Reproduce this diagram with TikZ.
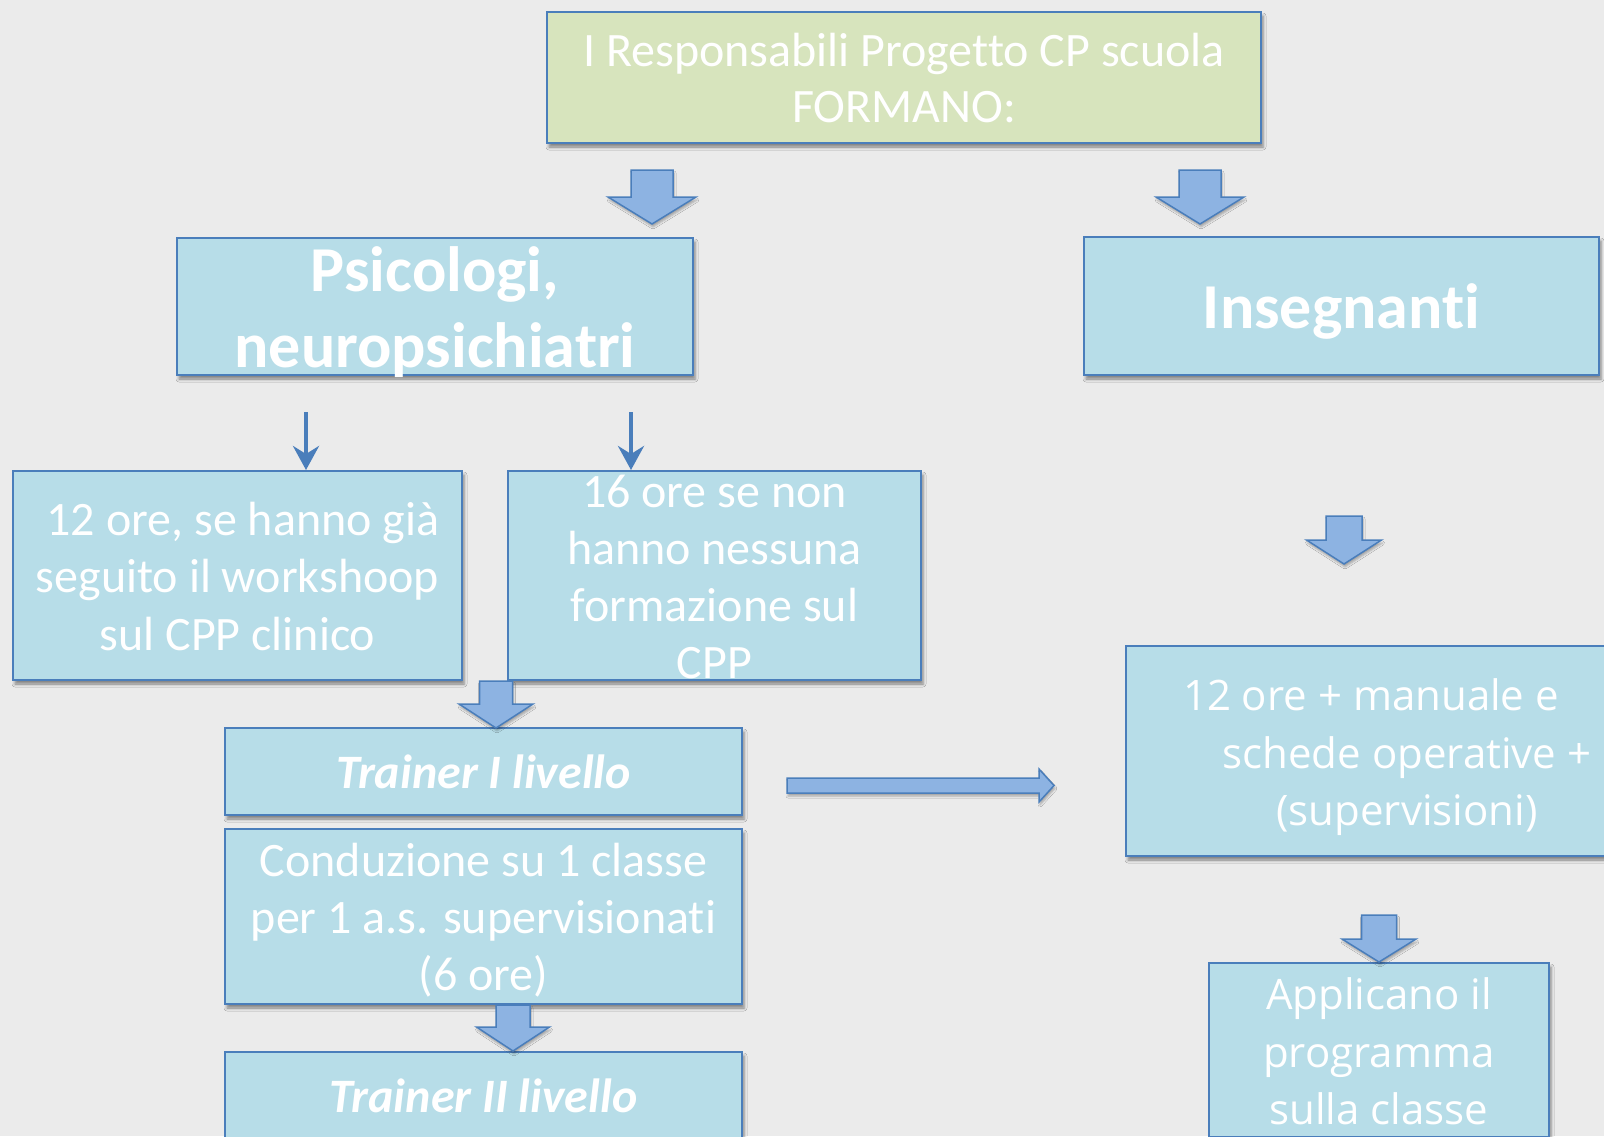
\documentclass[tikz,border=0pt]{standalone}
\usepackage{fontspec}
\setmainfont{Carlito}[Ligatures={NoCommon,NoRare},Contextuals=NoAlternate]
\newfontfamily\osans{Open Sans}[Ligatures={NoCommon,NoRare}]
\usetikzlibrary{shadows.blur,arrows.meta,calc}
\definecolor{bgc}{HTML}{EBEBEB}
\definecolor{boxc}{HTML}{B7DDE8}
\definecolor{greenc}{HTML}{D7E4BD}
\definecolor{edgec}{HTML}{4A7EBB}
\definecolor{arrc}{HTML}{8DB3E2}
\newcommand\ls{\rule[-0.2\baselineskip]{0pt}{\baselineskip}}
\newcommand\fsmain{\fontsize{48}{57.5}\selectfont}
\newcommand\fsbig{\fontsize{64}{76}\selectfont\bfseries}
\newcommand\fsopen{\osans\fontsize{42}{57.5}\selectfont}
% #1 x, #2 top y, #3 head base y, #4 tip y, #5 shaft half width, #6 head half width
\newcommand\dnarrow[6]{%
  \draw[blockarrow] (#1-#5,#2) -- (#1+#5,#2) -- (#1+#5,#3) -- (#1+#6,#3)
    -- (#1,#4) -- (#1-#6,#3) -- (#1-#5,#3) -- cycle;}
\tikzset{
  boxnode/.style={draw=edgec, line width=2pt, fill=boxc, rectangle, inner sep=0pt,
    blur shadow={shadow xshift=2pt, shadow yshift=-4pt, shadow blur radius=3pt, shadow opacity=45}},
  greenbox/.style={boxnode, fill=greenc},
  txt/.style={text=white, align=center, inner sep=0pt},
  blockarrow/.style={draw=edgec, line width=1.5pt, fill=arrc, line join=miter,
    blur shadow={shadow xshift=1pt, shadow yshift=-3pt, shadow blur radius=2pt, shadow opacity=30}},
  thinarrow/.style={draw=edgec, line width=4pt, -{Stealth[length=24pt,width=26pt,inset=8pt]}},
}
\begin{document}
\begin{tikzpicture}[x=1pt,y=-1pt]
\useasboundingbox (0,0) rectangle (1604,1136);
\fill[bgc] (0,0) rectangle (1604,1136);
\begin{scope}
\clip (0,0) rectangle (1604,1136);
% boxes
\node[greenbox, minimum width=714pt, minimum height=131pt] (top) at (904,77.5) {};
\node[boxnode, minimum width=516pt, minimum height=137pt] (psi) at (435,306.5) {};
\node[boxnode, minimum width=515pt, minimum height=138pt] (ins) at (1341.5,306) {};
\node[boxnode, minimum width=449pt, minimum height=209pt] (b12) at (237.5,575.5) {};
\node[boxnode, minimum width=413pt, minimum height=209pt] (b16) at (714.5,575.5) {};
\node[boxnode, minimum width=517pt, minimum height=87pt] (t1) at (483.5,771.5) {};
\node[boxnode, minimum width=517pt, minimum height=175pt] (cond) at (483.5,916.5) {};
\node[boxnode, minimum width=517pt, minimum height=87pt] (t2) at (483.5,1095.5) {};
\node[boxnode, minimum width=562pt, minimum height=210pt] (r12) at (1407,751) {};
\node[boxnode, minimum width=340pt, minimum height=174pt] (app) at (1379,1050) {};
% block arrows
\dnarrow{652}{170}{197}{224}{21}{44}
\dnarrow{1200}{170}{197}{224}{21}{44}
\dnarrow{496}{681}{704}{728}{16.5}{37}
\dnarrow{513}{1005}{1027}{1051}{17}{36.5}
\dnarrow{1344}{516}{540}{564}{18}{37.5}
\dnarrow{1379}{915}{939}{962}{17.5}{37}
\draw[blockarrow] (787,778) -- (1039,778) -- (1039,769) -- (1054,785.5)
  -- (1039,802) -- (1039,793) -- (787,793) -- cycle;
% thin arrows
\coordinate (s1) at (306,412);
\coordinate (s2) at (631,412);
\draw[thinarrow] (s1) -- (s1 |- b12.north);
\draw[thinarrow] (s2) -- (s2 |- b16.north);
% texts
\node[txt, font=\fontsize{48}{56}\selectfont] (top-t) at (top.center)
  {\ls I Responsabili Progetto CP scuola\\\ls FORMANO:};
\node[txt, font=\fsbig] (psi-t) at (psi.center) {\ls Psicologi,\\\ls neuropsichiatri};
\node[txt, font=\fsbig] (ins-t) at (ins.center) {\ls Insegnanti};
\node[txt, font=\fsmain] (b12-t) at (b12.center)
  {\ls\ 12 ore, se hanno già\\\ls seguito il workshoop\\\ls sul CPP clinico};
\node[txt, font=\fontsize{48}{57}\selectfont] (b16-t) at (b16.center)
  {\ls 16 ore se non\\\ls hanno nessuna\\\ls formazione sul\\\ls CPP};
\node[txt, font=\fontsize{48}{57}\selectfont\bfseries\itshape] (t1-t) at (t1.center) {\ls Trainer I livello};
\node[txt, font=\fontsize{48}{57}\selectfont] (cond-t) at (cond.center)
  {\ls Conduzione su 1 classe\\\ls per 1 a.s. supervisionati\\\ls (6 ore)};
\node[txt, font=\fontsize{48}{57}\selectfont\bfseries\itshape] (t2-t) at (t2.center) {\ls Trainer II livello};
\node[txt, font=\fsopen] (r12-t) at (r12.center)
  {\ls 12 ore + manuale e\hspace*{72pt}\\\ls schede operative +\\\ls (supervisioni)};
\node[txt, font=\fsopen] (app-t) at (app.center)
  {\ls Applicano il\\\ls programma\\\ls sulla classe};
\end{scope}
\end{tikzpicture}
\end{document}
